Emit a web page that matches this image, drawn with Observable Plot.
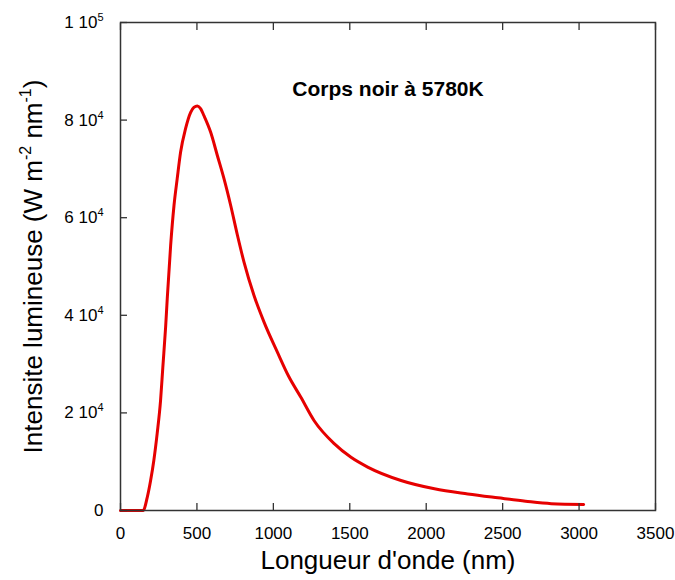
<!DOCTYPE html>
<html>
<head>
<meta charset="utf-8">
<script src="https://cdn.jsdelivr.net/npm/d3@7"></script>
<script src="https://cdn.jsdelivr.net/npm/@observablehq/plot@0.6"></script>
<style>
  html, body { margin: 0; padding: 0; background: #fff; }
  svg { font-family: "Liberation Sans", Arial, sans-serif; }
</style>
</head>
<body>
<div id="chart"></div>
<script>
// Wavelength (nm) and luminous intensity (W m^-2 nm^-1)
const wavelength = [0, 50, 100, 148, 175, 197, 218, 240, 262, 277, 295, 306, 328, 350, 371, 393, 426, 459, 480, 503, 525, 546, 590, 634, 677, 721, 765, 808, 874, 939, 1027, 1100, 1180, 1267, 1398, 1508, 1617, 1835, 2054, 2272, 2469, 2650, 2818, 3030];
const intensity  = [0, 0, 0, 0, 2700, 6150, 10250, 15800, 22500, 29400, 37500, 43500, 54300, 62500, 68000, 73400, 78300, 81600, 82600, 82900, 82300, 80900, 77500, 72700, 68000, 62500, 56400, 50900, 44000, 38600, 32400, 27500, 23200, 18400, 13700, 10900, 8900, 6150, 4450, 3400, 2600, 1900, 1400, 1250];

const xTicks = [0, 500, 1000, 1500, 2000, 2500, 3000, 3500];
const xTickLabels = ["0", "500", "1000", "1500", "2000", "2500", "3000", "3500"];
const yTicks = [0, 20000, 40000, 60000, 80000, 100000];
const yTickLabels = ["0", "2 10^4", "4 10^4", "6 10^4", "8 10^4", "1 10^5"];

const title = "Corps noir à 5780K";
const xLabel = "Longueur d'onde (nm)";
const yLabel = "Intensite lumineuse (W m^{-2} nm^{-1})";

const data = wavelength.map((w, i) => ({w, v: intensity[i]}));

const TICK_FS = 17, LABEL_FS = 26;

const chart = Plot.plot({
  width: 675,
  height: 580,
  marginLeft: 120,
  marginRight: 20,
  marginTop: 22,
  marginBottom: 70,
  style: {fontFamily: "'Liberation Sans', Arial, sans-serif", fontSize: TICK_FS + "px", color: "#000", background: "#fff"},
  x: {domain: [0, 3500]},
  y: {domain: [0, 100000]},
  marks: [
    Plot.line(data, {x: "w", y: "v", stroke: "#e60000", strokeWidth: 3, curve: "monotone-x"}),
    // inward tick marks
    Plot.axisX({anchor: "bottom", ticks: xTicks, tickSize: -7, tickFormat: () => "", label: null, stroke: "#333", strokeWidth: 1.3}),
    Plot.axisX({anchor: "top", ticks: xTicks, tickSize: -7, tickFormat: () => "", label: null, stroke: "#333", strokeWidth: 1.3}),
    Plot.axisY({anchor: "left", ticks: yTicks, tickSize: -7, tickFormat: () => "", label: null, stroke: "#333", strokeWidth: 1.3}),
    Plot.frame({stroke: "#333", strokeWidth: 1.5}),
    // tick labels
    Plot.text(xTicks, {x: d => d, frameAnchor: "bottom", dy: 23, text: (d, i) => xTickLabels[i],
      fontSize: TICK_FS, fill: "#000", lineAnchor: "middle"}),
    Plot.text(yTicks, {y: d => d, frameAnchor: "left", dx: -17, textAnchor: "end", text: (d, i) => yTickLabels[i],
      fontSize: TICK_FS, fill: "#000"}),
    // titles
    Plot.text([title], {frameAnchor: "top", dy: 59, fontSize: 21, fontWeight: "bold", fill: "#000"}),
    Plot.text([xLabel], {frameAnchor: "bottom", dy: 58, fontSize: LABEL_FS, fill: "#000"}),
    Plot.text([yLabel], {frameAnchor: "left", textAnchor: "middle", dx: -87, rotate: -90, fontSize: LABEL_FS, fill: "#000"})
  ]
});

document.getElementById("chart").appendChild(chart);

// Turn ^x / ^{...} markup into superscript tspans with explicit sizes
d3.select(chart).selectAll("text").each(function() {
  const t = this.textContent;
  if (!t.includes("^")) return;
  const isTick = t.length < 10;
  const base = isTick ? TICK_FS : LABEL_FS;
  const sup = Math.round(base * (isTick ? 0.62 : 0.6));
  const shift = Math.round(base * 0.42);
  const parts = t.split(/(\^\{[^}]*\}|\^.)/).filter(p => p.length);
  const el = d3.select(this);
  el.text(null).attr("font-size", base).style("font-size", base + "px");
  let raised = false;
  for (const p of parts) {
    if (p.startsWith("^")) {
      const s = p.startsWith("^{") ? p.slice(2, -1) : p.slice(1);
      el.append("tspan").attr("font-size", sup).style("font-size", sup + "px").attr("dy", -shift).text(s);
      raised = true;
    } else {
      const ts = el.append("tspan").attr("font-size", base).style("font-size", base + "px").text(p);
      if (raised) { ts.attr("dy", shift); raised = false; }
    }
  }
});
</script>
</body>
</html>
